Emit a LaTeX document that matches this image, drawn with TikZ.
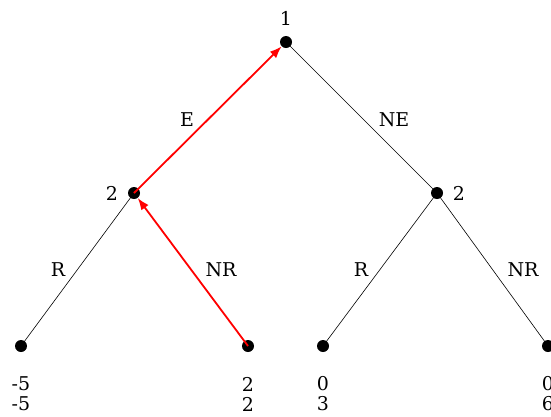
\documentclass[tikz,border=0pt]{standalone}
\usepackage{fontspec}
\setmainfont{DejaVu Serif}
\usetikzlibrary{arrows.meta}

\tikzset{
  dot/.style={circle, fill=black, inner sep=0pt, minimum size=12pt},
  branch/.style={draw=black, line width=0.6pt},
  choice/.style={draw=red, line width=1.8pt, -{Latex[length=12pt,width=9pt]}},
  payoff/.style={align=center, inner sep=0pt, font=\fontsize{19}{20}\selectfont}
}

\begin{document}
\begin{tikzpicture}[x=1pt, y=-1pt, every node/.append style={font=\fontsize{19}{20}\selectfont}]
  \useasboundingbox (0,0) rectangle (551,416);
  % Nodes
  \node (root) at (286,42) [dot] {};
  \node (left) at (134,193) [dot] {};
  \node (right) at (437,193) [dot] {};
  \node (leafA) at (21,346) [dot] {};
  \node (leafB) at (248,346) [dot] {};
  \node (leafC) at (323,346) [dot] {};
  \node (leafD) at (548,346) [dot] {};

  \node (pl1) at (286,18) {1};
  \node (pl2a) at (112,193) {2};
  \node (pl2b) at (459,193) {2};

  \node (labE) at (187,120) {E};
  \node (labNE) at (394,120) {NE};
  \node (labRa) at (58,270) {R};
  \node (labNRa) at (221,270) {NR};
  \node (labRb) at (361,270) {R};
  \node (labNRb) at (523,270) {NR};

  \node (payA) at (21,394) [payoff] {-5\\-5};
  \node (payB) at (248,394) [payoff] {2\\2};
  \node (payC) at (323,394) [payoff] {0\\3};
  \node (payD) at (548,394) [payoff] {0\\6};

  % Edges
  \draw[branch] (root.center) -- (right.center);
  \draw[branch] (left.center) -- (leafA.center);
  \draw[branch] (right.center) -- (leafC.center);
  \draw[branch] (right.center) -- (leafD.center);
  \draw[choice] (leafB.center) -- (left);
  \draw[choice] (left.center) -- (root);
\end{tikzpicture}
\end{document}
